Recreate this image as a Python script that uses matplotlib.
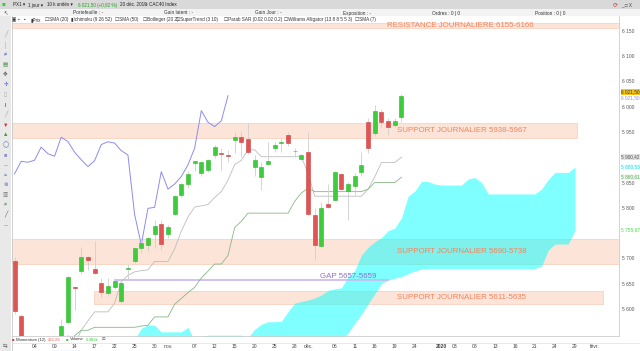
import numpy as np
import pandas as pd
import matplotlib
matplotlib.use('Agg')
import matplotlib.pyplot as plt
import matplotlib.transforms as mtransforms
from matplotlib.patches import Rectangle

W, H = 640, 351

# trading calendar of the chart (closed 25 and 26 dec)
days = pd.bdate_range('2019-10-01', '2020-02-03')
days = days[~days.isin(pd.to_datetime(['2019-12-25', '2019-12-26']))]

# CAC40 daily candles, 1 oct -> 20 dec 2019
opens = [5695, 5587, 5420, 5440, 5495, 5515, 5480, 5500, 5575, 5644,
         5675, 5702, 5679, 5651, 5632, 5644, 5616, 5679, 5694, 5720,
         5727, 5748, 5769, 5748, 5788, 5826, 5847, 5889, 5868, 5874,
         5905, 5909, 5903.5, 5934, 5939.5, 5936, 5880, 5860, 5886, 5919,
         5929, 5944, 5912, 5896, 5910, 5786, 5725, 5808, 5816, 5866,
         5833, 5844, 5870, 5970, 5947, 5990, 5972, 5964, 5980]
highs = [5702, 5590, 5445, 5495, 5530, 5528, 5520, 5580, 5666, 5646,
         5723, 5704, 5735, 5661, 5662, 5660, 5657, 5690, 5723, 5740,
         5743, 5776, 5776, 5766, 5826, 5849, 5872, 5893, 5893, 5896,
         5924, 5918, 5914, 5949, 5949, 5967, 5904, 5891, 5931, 5930,
         5937.5, 5949, 5918, 5906, 5949, 5799, 5812, 5848, 5873, 5868,
         5852, 5868, 5911, 5977, 6003, 5995, 5977, 5977, 6024]
lows = [5590, 5410, 5393, 5430, 5480, 5460, 5454, 5488, 5573, 5598,
        5669, 5677, 5670, 5621, 5625, 5640, 5612, 5659, 5692, 5710,
        5715, 5720, 5717, 5740, 5786, 5822, 5839, 5872, 5862, 5870,
        5898, 5875, 5891, 5908, 5901, 5906, 5862, 5835, 5885, 5911,
        5911, 5922, 5901, 5894, 5786, 5697, 5720, 5799, 5814, 5835,
        5776, 5825, 5862, 5908, 5942, 5957, 5944, 5960, 5970]
closes = [5596, 5422, 5438, 5488, 5521, 5499, 5508, 5567, 5664, 5642,
          5702, 5696, 5672, 5634, 5646, 5656, 5652, 5682, 5721, 5730,
          5740, 5765, 5729, 5762, 5824, 5847, 5867, 5892, 5890, 5894,
          5920, 5907, 5902, 5939.5, 5931, 5910, 5895, 5881.5, 5893, 5925,
          5930.5, 5928, 5913, 5904.5, 5787, 5727, 5799, 5801, 5871.6, 5837,
          5847, 5862, 5885, 5918, 5992, 5969, 5960.5, 5972, 6021.5]

# ichimoku cloud edges, 1 oct -> 29 jan
span_a = [5480] * 18 + [
    5540, 5562, 5569, 5568, 5555, 5555, 5555, 5555, 5564, 5535,
    5546, 5548.5, 5548.5, 5548.5, 5548.5, 5548.5, 5548.5, 5544, 5560, 5570,
    5575, 5575, 5576, 5595, 5612, 5615, 5618, 5622, 5628, 5637,
    5640, 5642, 5664, 5676, 5707, 5722, 5733, 5741, 5755, 5760,
    5780, 5823, 5833, 5852, 5852, 5847, 5845, 5845, 5845, 5845,
    5857, 5860, 5850, 5827.5, 5827.5, 5827.5, 5827.5, 5827.5, 5827.5, 5827.5,
    5827.5, 5837, 5856, 5870, 5870, 5870, 5880.5]
span_b = [5450] * 44 + [
    5470, 5480, 5490, 5505, 5520, 5540, 5553, 5572, 5590, 5610,
    5630, 5650, 5657, 5661, 5664, 5670, 5675, 5679] + [5680] * 17 + [
    5685, 5716.5, 5728.5, 5728.5, 5728.5, 5755.7]

# x axis labels
tick_days = ['2019-10-04', '2019-10-09', '2019-10-14', '2019-10-17', '2019-10-22',
             '2019-10-25', '2019-10-30', '2019-11-01', '2019-11-07', '2019-11-12',
             '2019-11-15', '2019-11-20', '2019-11-25', '2019-11-28', '2019-12-02',
             '2019-12-06', '2019-12-11', '2019-12-16', '2019-12-19', '2019-12-24',
             '2020-01-01', '2020-01-03', '2020-01-08', '2020-01-13', '2020-01-16',
             '2020-01-21', '2020-01-24', '2020-01-29', '2020-02-03']
tick_text = ['04', '09', '14', '17', '22', '25', '30', 'nov.', '07', '12', '15', '20',
             '25', '28', 'déc.', '06', '11', '16', '19', '24', '2020', '03', '08',
             '13', '16', '21', '24', '29', 'févr.']

# right axis
price_ticks = [5600, 5650, 5700, 5800, 5850, 5950, 6000, 6050, 6100, 6150]

# zones drawn by hand on the chart
zone_low = [6155, 5938, 5690, 5611]
zone_high = [6166, 5967, 5738, 5635]
zone_text = ['RESISTANCE JOURNALIERE 6155-6166', 'SUPPORT JOURNALIER 5938-5967',
             'SUPPORT JOURNALIER 5690-5738', 'SUPPORT JOURNALIER 5611-5635']
gap_low, gap_high = 5657, 5659

# last values shown on the price scale
last_close = 6021.50
tenkan_last, span_a_last, kijun_last, span_b_last = 5900.42, 5880.53, 5860.61, 5755.67


def fx(px):
    return px / W


def fy(py):
    return 1 - py / H


def main():
    plt.rcParams['font.family'] = ['Liberation Sans', 'DejaVu Sans']
    fig = plt.figure(figsize=(W / 100, H / 100), dpi=100)
    fig.patch.set_facecolor('white')

    # indicators
    hi = pd.Series(highs, dtype=float)
    lo = pd.Series(lows, dtype=float)
    cl = pd.Series(closes, dtype=float)
    tenkan = (hi.rolling(9).max() + lo.rolling(9).min()) / 2
    kijun = (hi.rolling(26, min_periods=10).max() + lo.rolling(26, min_periods=10).min()) / 2
    chikou = cl.shift(-26)
    n = len(closes)
    x = np.arange(n)

    ax = fig.add_axes([fx(12), fy(336), fx(619) - fx(12), fy(16) - fy(336)])
    ax.set_xlim(-0.375, 90.6)
    ax.set_ylim(5546.8, 6179)

    # zones
    zone_x = [(-0.375, 90.6), (-0.375, 84.3), (-0.375, 90.6), (11.96, 88.2)]
    text_x = [55.85, 57.35, 57.35, 57.35]
    for (x0, x1), zl, zh, zt, tx in zip(zone_x, zone_low, zone_high, zone_text, text_x):
        ax.add_patch(Rectangle((x0, zl), x1 - x0, zh - zl, facecolor='#fde4d9',
                               edgecolor='#f8cdb8', lw=0.5, zorder=1))
        ax.text(tx, (zl + zh) / 2, zt, fontsize=5.7, color='#f4845c',
                va='center', ha='left', zorder=8)

    # gap
    ax.plot([15.1, 56], [(gap_low + gap_high) / 2] * 2, color='#cbb6ec', lw=1.2, zorder=3)
    ax.text(45.8, 5664, 'GAP 5657-5659', fontsize=5.7, color='#8f70d6',
            va='center', ha='left', zorder=8)

    # cloud
    xc = np.arange(len(span_a))
    ax.fill_between(xc, span_a, span_b, color='#00ffff', alpha=0.5, lw=0, zorder=2)

    # ichimoku lines
    ax.plot(x, tenkan, color='#bdbdbd', lw=0.6, zorder=3)
    ax.plot(x, kijun, color='#86b886', lw=0.6, zorder=3)
    ax.plot(x, chikou, color='#8c8cf0', lw=0.7, zorder=3)

    # candles
    o = np.array(opens)
    c = np.array(closes)
    up = c >= o
    ax.vlines(x, lows, highs, color='#cfcfcf', lw=0.6, zorder=4)
    ax.bar(x[up], (c - o)[up], bottom=o[up], width=0.6, color='#3ccc3c',
           edgecolor='#2fb82f', lw=0.4, zorder=5)
    ax.bar(x[~up], (c - o)[~up], bottom=o[~up], width=0.6, color='#e05454',
           edgecolor='#c94040', lw=0.4, zorder=5)

    # axes look
    for s in ['top', 'left']:
        ax.spines[s].set_visible(False)
    for s in ['right', 'bottom']:
        ax.spines[s].set_color('#cccccc')
        ax.spines[s].set_linewidth(0.6)

    ticks = days.get_indexer(pd.to_datetime(tick_days))
    ax.set_xticks(ticks)
    ax.set_xticklabels(tick_text)
    ax.tick_params(axis='x', length=0, pad=5.6, labelsize=3.6, labelcolor='#444444')
    for lab in ax.get_xticklabels():
        if lab.get_text() == '2020':
            lab.set_fontweight('bold')

    ax.yaxis.tick_right()
    ax.set_yticks(price_ticks)
    ax.set_yticklabels([f'{p:,}'.replace(',', ' ') for p in price_ticks])
    ax.tick_params(axis='y', length=0, pad=1.8, labelsize=3.5, labelcolor='#555555')

    # value tags on the price scale
    tr = mtransforms.blended_transform_factory(ax.transAxes, ax.transData)

    def tag(y, s, fc, col):
        ax.text(1.004, y, s, transform=tr, fontsize=3.4, color=col, va='center',
                ha='left', clip_on=False, zorder=9,
                bbox=dict(boxstyle='square,pad=0.15', fc=fc, ec='none'))

    def fmt(v):
        return f'{v:,.2f}'.replace(',', ' ').replace('.', ',')

    tag(last_close + 7.5, fmt(last_close), '#f5c518', '#333333')
    tag(last_close - 5, fmt(last_close), 'white', '#8c8cf0')
    tag(tenkan_last, fmt(tenkan_last), '#e2e2e2', '#555555')
    tag(span_a_last, fmt(span_a_last), '#eaffff', '#22d6e6')
    tag(kijun_last, fmt(kijun_last), '#eef6ee', '#5aa65a')
    tag(span_b_last, fmt(span_b_last), 'white', '#3ee03e')

    # ---- window chrome ----
    fig.patches.append(Rectangle((0, fy(9)), 1, 1 - fy(9), transform=fig.transFigure,
                                 fc='#d9d9d9', ec='none', zorder=0))
    fig.patches.append(Rectangle((0, fy(16)), 1, fy(9) - fy(16), transform=fig.transFigure,
                                 fc='#f3f3f3', ec='none', zorder=0))
    fig.patches.append(Rectangle((0, 0), fx(11), fy(16), transform=fig.transFigure,
                                 fc='#e9e9e9', ec='none', zorder=0))
    fig.add_artist(plt.Line2D([fx(11.5), fx(11.5)], [fy(351), fy(16)], color='#c8c8c8', lw=0.6))
    fig.add_artist(plt.Line2D([fx(12), fx(640)], [fy(342.5), fy(342.5)], color='#e0e0e0', lw=0.5))

    t = dict(fontsize=3.3, va='center', ha='left')
    fig.text(fx(2), fy(5), '▮▮', color='#3ccc3c', fontsize=3.2, va='center')
    fig.text(fx(13), fy(5), 'PX1 ▾', color='#222222', **t)
    fig.text(fx(28), fy(5), '1 jour ▾', color='#222222', **t)
    fig.text(fx(47), fy(5), '10 k unités ▾', color='#222222', **t)
    fig.text(fx(78), fy(5), '6 021,50 (+0,82 %)', color='#22a022', **t)
    fig.text(fx(120), fy(5), '20 déc. 2019', color='#222222', **t)
    fig.text(fx(145), fy(5), '○ CAC40 Index', color='#222222', **t)
    fig.text(fx(613), fy(5), '⟳', color='#d04040', fontsize=4.5, va='center')
    fig.text(fx(621), fy(5), '_ □ X', color='#444444', **t)

    t2 = dict(fontsize=3.4, va='center', ha='left', color='#333333')
    fig.text(fx(73), fy(13), 'Portefeuille : -', **t2)
    fig.text(fx(164), fy(13), 'Gain latent : -', **t2)
    fig.text(fx(255), fy(13), 'Gain Jour : -', **t2)
    fig.text(fx(343), fy(13), 'Exposition : -', **t2)
    fig.text(fx(432), fy(13), 'Ordres : 0 | 0', **t2)
    fig.text(fx(535), fy(13), 'Position : 0 | 0', **t2)
    fig.text(fx(3), fy(14), '↖', fontsize=4, va='center', color='#555555')

    t3 = dict(fontsize=3.3, va='center', ha='left', color='#333333')
    items = [(12, '▣'), (18, '▪'), (24, '▪'), (31, '▮Prix'), (45, '☐SMA (20)'),
             (71, '▮Ichimoku (9 26 52)'), (115, '☐SMA (50)'), (143, '☐Bollinger (20 2)'),
             (176, '☐SuperTrend (3 10)'), (224, '☐Parab SAR (0.02 0.02 0.2)'),
             (284, '☐Williams Alligator (13 8 8 5 5 3)'), (355, '☐SMA (7)')]
    for px, s in items:
        fig.text(fx(px), fy(19.5), s, **t3)

    # left toolbar icons
    icon_y = [35, 45, 55, 65, 75, 85, 95, 105, 115, 125, 135, 145, 155, 165, 175,
              185, 195, 205, 215, 225]
    icon_s = ['╱', '│', '≠', '▤', '✥', '✛', '▯', 'I', '╱', '▼', '▲', '◯', '■', '─', '≈',
              '≋', '▥', '≠', '╱', '─']
    icon_c = ['#999999', '#999999', '#4060c0', '#4a8a4a', '#555555', '#3050c0', '#aaaaaa',
              '#333333', '#999999', '#e03030', '#30a030', '#6070a0', '#8890d0', '#9bb59b',
              '#4060c0', '#4060c0', '#777777', '#4a8a4a', '#555555', '#e08080']
    for yy, s, col in zip(icon_y, icon_s, icon_c):
        fig.text(fx(5.5), fy(yy), s, fontsize=4, color=col, ha='center', va='center')
    fig.text(fx(3), fy(346), '⇆', fontsize=4, va='center', color='#555555')

    # bottom indicator bar
    t4 = dict(fontsize=3.1, va='center', ha='left')
    fig.text(fx(12), fy(339.5), '■', color='#d04040', **t4)
    fig.text(fx(15.5), fy(339.5), 'Momentum (12)', color='#333333', **t4)
    fig.text(fx(48), fy(339.5), '221,85', color='#e06060', **t4)
    fig.text(fx(66), fy(339.5), '■', color='#3ccc3c', **t4)
    fig.text(fx(70), fy(339.5), 'Volume', color='#333333', **t4)
    fig.text(fx(86), fy(339.5), '6,482k', color='#3ccc3c', **t4)
    fig.text(fx(102), fy(339.5), '⊡', color='#444444', **t4)
    fig.add_artist(plt.Line2D([fx(53), fx(79)], [fy(350.5), fy(350.5)], color='#3b8fe0', lw=0.8))

    fig.savefig('out.png', dpi=100)


if __name__ == "__main__":
    main()
